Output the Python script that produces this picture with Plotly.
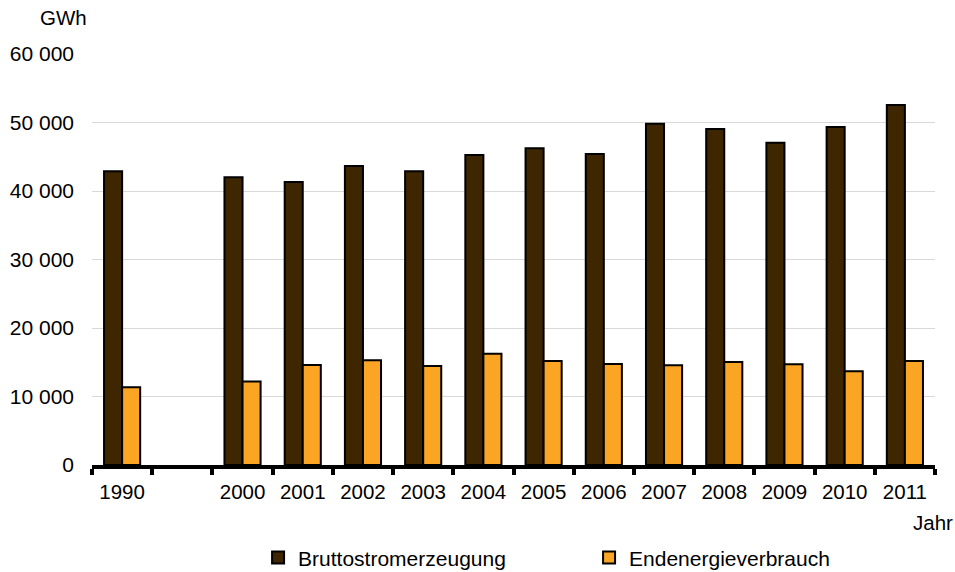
import plotly.graph_objects as go

categories = ["1990", "", "2000", "2001", "2002", "2003", "2004", "2005",
              "2006", "2007", "2008", "2009", "2010", "2011"]
brutto = [42900, None, 42000, 41300, 43650, 42900, 45250, 46250,
          45400, 49800, 49050, 47050, 49350, 52550]
endenergie = [11350, None, 12200, 14600, 15300, 14450, 16250, 15180,
              14750, 14550, 15050, 14700, 13700, 15200]
y_ticks = [0, 10000, 20000, 30000, 40000, 50000, 60000]

FONT = "Liberation Sans, Arial, sans-serif"
xpos = list(range(len(categories)))

fig = go.Figure()
fig.add_trace(go.Bar(x=xpos, y=brutto, name="Bruttostromerzeugung",
                     marker=dict(color="#3d2600", line=dict(color="#000000", width=2))))
fig.add_trace(go.Bar(x=xpos, y=endenergie, name="Endenergieverbrauch",
                     marker=dict(color="#fba524", line=dict(color="#000000", width=2))))

fig.update_layout(
    width=955, height=572,
    margin=dict(l=92, r=20, t=54, b=107, autoexpand=False),
    paper_bgcolor="white", plot_bgcolor="white",
    font=dict(family=FONT, size=20, color="#000000"),
    separators=", ",
    barmode="group", bargap=0.4, bargroupgap=0,
    showlegend=True,
    legend=dict(orientation="h", x=0.197, xanchor="left", y=-0.226, yanchor="middle",
                font=dict(size=21), itemwidth=30, entrywidth=286, entrywidthmode="pixels",
                bgcolor="rgba(0,0,0,0)"),
)
fig.update_xaxes(
    range=[-0.5, len(categories) - 0.5],
    tickmode="array", tickvals=xpos, ticktext=categories,
    ticks="", showgrid=False, zeroline=False,
    showline=True, linecolor="#000000", linewidth=4,
    minor=dict(tick0=-0.5, dtick=1, ticks="outside", ticklen=6, tickwidth=4,
               tickcolor="#000000", showgrid=False),
    tickfont=dict(size=20.5), ticklabelstandoff=5,
)
fig.update_yaxes(
    range=[0, 60000], tickmode="array", tickvals=y_ticks, tickformat=",d",
    showgrid=True, gridcolor="#d9d9d9", gridwidth=1, zeroline=False,
    showline=False, ticks="", tickfont=dict(size=21), ticklabelstandoff=17,
)
fig.add_annotation(text="GWh", xref="paper", yref="paper", x=-0.064, y=1.088,
                   xanchor="left", yanchor="middle", showarrow=False,
                   font=dict(size=20.5))
fig.add_annotation(text="Jahr", xref="paper", yref="paper", x=1.024, y=-0.139,
                   xanchor="right", yanchor="middle", showarrow=False,
                   font=dict(size=20.5))

fig.write_html("out.html", config={"displayModeBar": False},
               post_script="document.body.style.margin='0px';")
